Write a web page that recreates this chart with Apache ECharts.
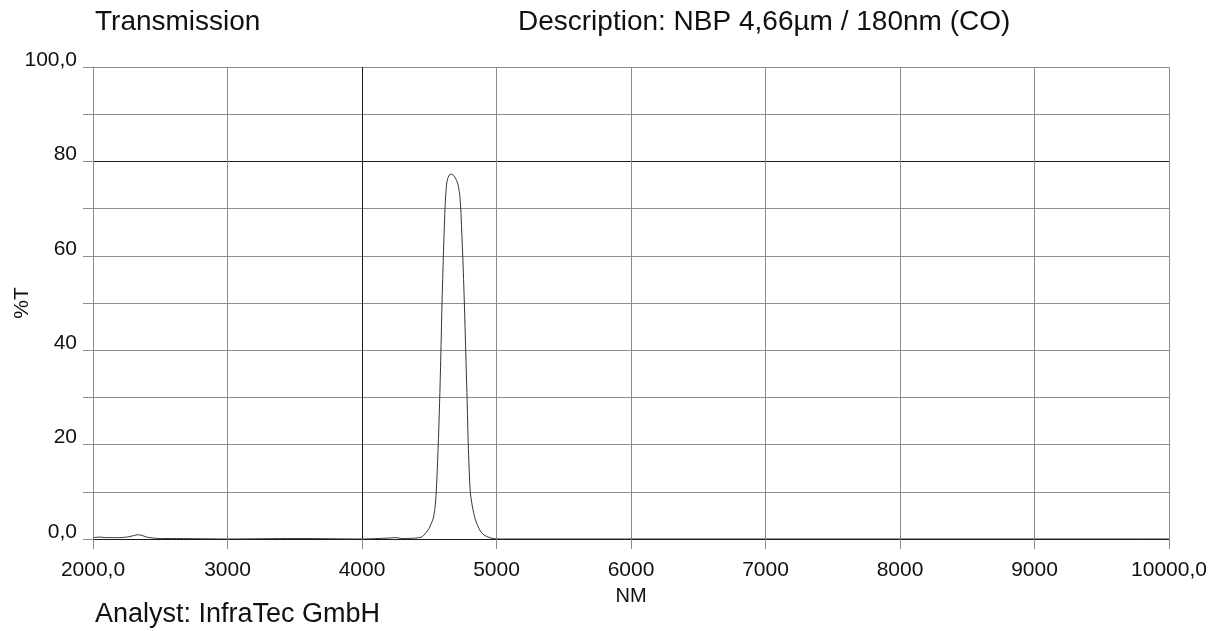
<!DOCTYPE html>
<html>
<head>
<meta charset="utf-8">
<title>Transmission NBP 4,66µm</title>
<script src="https://cdn.jsdelivr.net/npm/echarts@6/dist/echarts.min.js"></script>
<style>
  html, body { margin: 0; padding: 0; background: #fff; }
  #chart { width: 1218px; height: 631px; }
</style>
</head>
<body>
<div id="chart"></div>
<script>
// Wavelength in nm and measured transmission in %T
const wavelength = [
  2000, 2050, 2100, 2150, 2200, 2250, 2300, 2330, 2360, 2400, 2450, 2500, 2600, 2800, 3000,
  3500, 4000, 4200, 4250, 4300, 4400, 4440, 4460, 4480, 4500, 4515, 4530, 4542, 4552,
  4567, 4578, 4587, 4595, 4605, 4617, 4624, 4630, 4640, 4652, 4665, 4678, 4690, 4702,
  4712, 4721, 4728, 4734, 4749, 4761, 4771, 4781, 4790, 4805, 4820, 4840, 4860, 4880,
  4900, 4930, 4960, 5000, 6000, 8000, 10000
];
const transmission = [
  0.3, 0.4, 0.3, 0.3, 0.3, 0.4, 0.7, 0.9, 0.8, 0.4, 0.2, 0.1, 0.1, 0.05, 0.0,
  0.1, 0.0, 0.2, 0.3, 0.1, 0.2, 0.4, 0.8, 1.5, 2.3, 3.3, 4.4, 6.5, 10,
  20, 30, 40, 50, 60, 70, 73.5, 75.4, 76.6, 77.2, 77.3, 77.1, 76.7, 76.0,
  75.3, 74.0, 72.5, 70, 60, 50, 40, 30, 20, 10, 7, 4.4, 2.8, 1.7,
  1.0, 0.5, 0.2, 0.0, 0.0, 0.0, 0.0
];

const xTicks = [2000, 3000, 4000, 5000, 6000, 7000, 8000, 9000, 10000];
const yTicks = [0, 20, 40, 60, 80, 100];

const points = wavelength.map((w, i) => [w, transmission[i]]);

const GRID = '#8c8c8c';
const DARK = '#1a1a1a';
const FONT = 'Liberation Sans, Arial, sans-serif';

const chart = echarts.init(document.getElementById('chart'), null, { renderer: 'canvas' });

chart.setOption({
  backgroundColor: '#ffffff',
  animation: false,
  grid: { left: 93, right: 49, top: 67, bottom: 92, containLabel: false, outerBoundsMode: 'none' },
  xAxis: {
    type: 'value',
    min: 2000,
    max: 10000,
    interval: 1000,
    name: 'NM',
    nameLocation: 'middle',
    nameGap: 47,
    nameMoveOverlap: false,
    nameTextStyle: { fontFamily: FONT, fontSize: 20, color: '#111' },
    axisLine: { show: true, onZero: false, lineStyle: { color: DARK, width: 1.2 } },
    axisTick: { show: true, inside: false, length: 10, lineStyle: { color: GRID } },
    axisLabel: {
      margin: 21,
      fontFamily: FONT,
      fontSize: 21,
      color: '#111',
      formatter: v => (v === xTicks[0] || v === xTicks[xTicks.length - 1]) ? v + ',0' : String(v)
    },
    splitLine: {
      show: true,
      lineStyle: {
        color: xTicks.map(v => v === 4000 ? DARK : GRID),
        width: 1
      }
    }
  },
  yAxis: {
    type: 'value',
    min: 0,
    max: 100,
    interval: 10,
    name: '%T',
    nameLocation: 'middle',
    nameRotate: 90,
    nameGap: 60,
    nameMoveOverlap: false,
    nameTextStyle: { fontFamily: FONT, fontSize: 21, color: '#111' },
    axisLine: { show: true, lineStyle: { color: GRID, width: 1 } },
    axisTick: { show: true, inside: false, length: 10, lineStyle: { color: GRID } },
    axisLabel: {
      margin: 16,
      fontFamily: FONT,
      fontSize: 21,
      color: '#111',
      verticalAlign: 'bottom',
      lineHeight: 14,
      formatter: v => {
        if (!yTicks.includes(v)) return '';
        return (v === 0 || v === 100) ? v + ',0' : String(v);
      }
    },
    splitLine: {
      show: true,
      lineStyle: {
        color: [0, 10, 20, 30, 40, 50, 60, 70, 80, 90, 100].map(v => v === 80 ? DARK : GRID),
        width: 1
      }
    }
  },
  graphic: [
    { type: 'text', left: 95, top: 8, style: { text: 'Transmission', font: '28px ' + FONT, fill: '#111' } },
    { type: 'text', left: 518, top: 8, style: { text: 'Description: NBP 4,66µm / 180nm (CO)', font: '28px ' + FONT, fill: '#111' } },
    { type: 'text', left: 95, top: 601, style: { text: 'Analyst: InfraTec GmbH', font: '27px ' + FONT, fill: '#111' } }
  ],
  series: [{
    type: 'line',
    data: points,
    showSymbol: false,
    smooth: 0.25,
    lineStyle: { color: '#333', width: 1 },
    z: 5
  }]
});
</script>
</body>
</html>
